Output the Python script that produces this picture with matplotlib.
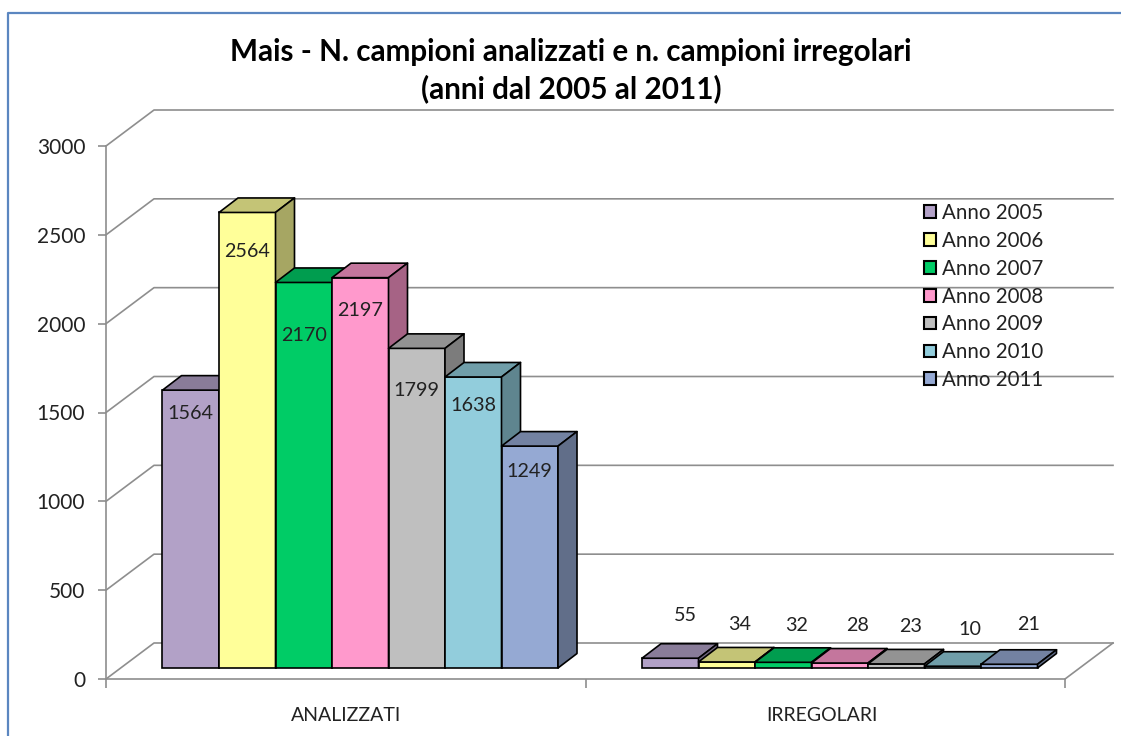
import matplotlib
matplotlib.use("Agg")
import matplotlib.pyplot as plt
from matplotlib.patches import Polygon, Patch
from matplotlib.lines import Line2D
from matplotlib.colors import to_rgb

plt.rcParams['font.family'] = ['Lato', 'DejaVu Sans']

categories = ["ANALIZZATI", "IRREGOLARI"]
years = ["Anno 2005", "Anno 2006", "Anno 2007", "Anno 2008", "Anno 2009", "Anno 2010", "Anno 2011"]
analizzati = [1564, 2564, 2170, 2197, 1799, 1638, 1249]
irregolari = [55, 34, 32, 28, 23, 10, 21]
colors = ["#B2A1C7", "#FFFF99", "#00CC66", "#FF99CC", "#BFBFBF", "#92CDDC", "#95A9D3"]
yticks = [0, 500, 1000, 1500, 2000, 2500, 3000]

# manual label offsets in px from the top-front centre of each bar (dx, dy up)
an_off = [(0, -23.5), (0, -39.5), (0, -53), (0, -33), (0, -42), (0, -29), (0, -25)]
ir_off = [(15, 43), (13, 37), (13, 37), (18, 38), (14, 37), (17, 37), (19, 40)]

W, H = 1121, 736
fig = plt.figure(figsize=(W / 100, H / 100), dpi=100, facecolor="white")
L, R, T, B = 106, 1065, 146, 679
ax = fig.add_axes([L / W, (H - B) / H, (R - L) / W, (B - T) / H])
ax.set_xlim(-0.5, 1.5)
ax.set_ylim(0, 3000)
ax.patch.set_visible(False)
px = 2 / (R - L)
py = 3000 / (B - T)
GRAY = "#8E8E8E"

for s in ("top", "right"):
    ax.spines[s].set_visible(False)
for s in ("left", "bottom"):
    ax.spines[s].set_color(GRAY)
    ax.spines[s].set_linewidth(1.2)

ax.set_yticks(yticks)
ax.set_xticks([-0.5, 0.5, 1.5])
ax.set_xticklabels([])
ax.set_xticks([0, 1 - 3 * px], minor=True)
ax.set_xticklabels(categories, minor=True, fontsize=14, color="#222222")
ax.tick_params(axis="x", which="major", length=6.5, width=1.2, color=GRAY)
ax.tick_params(axis="x", which="minor", length=0, pad=20)
ax.tick_params(axis="y", length=6, width=1.2, color=GRAY, pad=9, labelsize=15, labelcolor="#222222")

# walls
wx, wy = 48 * px, 36 * py
for v in yticks:
    ax.plot([-0.5, -0.5 + wx, 1.5 + wx], [v, v + wy, v + wy], color=GRAY, lw=1.2, clip_on=False, zorder=1)
ax.plot([1.5, 1.5 + wx], [0, wy], color=GRAY, lw=1.2, clip_on=False, zorder=1)

# bars
bw = 56.5 * px
dx, dy = 19 * px, 14.5 * py
base = 11 * py
shift = 14.5 * px


def shade(c, f):
    return tuple(x * f for x in to_rgb(c))


for g, vals in enumerate((analizzati, irregolari)):
    x0 = g + shift - 3.5 * bw
    for i, v in enumerate(vals):
        xl = x0 + i * bw
        xr = xl + bw
        top = base + v
        z = 3 + i
        kw = dict(edgecolor="black", lw=1.2, clip_on=False, zorder=z, joinstyle="round")
        ax.bar(xl, v, bw, bottom=base, align="edge", color=colors[i], edgecolor="black",
               linewidth=1.2, clip_on=False, zorder=z)
        ax.add_patch(Polygon([(xl, top), (xl + dx, top + dy), (xr + dx, top + dy), (xr, top)],
                             facecolor=shade(colors[i], 0.77), **kw))
        ax.add_patch(Polygon([(xr, base), (xr + dx, base + dy), (xr + dx, top + dy), (xr, top)],
                             facecolor=shade(colors[i], 0.65), **kw))
        off = an_off[i] if g == 0 else ir_off[i]
        ax.text(xl + bw / 2 + off[0] * px, top + off[1] * py, str(v), ha="center", va="center",
                fontsize=14.2, color="#222222", zorder=20)

handles = [Patch(facecolor=c, edgecolor="black", linewidth=1.5) for c in colors]
ax.legend(handles, years, loc="upper left", bbox_to_anchor=((920 - L) / (R - L), (B - 199) / (B - T)),
          frameon=False, fontsize=14.8, labelspacing=0.38, handlelength=0.58, handleheight=0.58,
          handletextpad=0.3, borderpad=0.2, borderaxespad=0, labelcolor="#222222").set_zorder(25)

fig.text(571 / W, 1 - 52 / H, "Mais - N. campioni analizzati e n. campioni irregolari",
         ha="center", va="center", fontsize=21.3, fontweight="bold", color="black")
fig.text(571 / W, 1 - 89 / H, "(anni dal 2005 al 2011)", ha="center", va="center",
         fontsize=21.3, fontweight="bold", color="black")

BLUE = "#5B86C0"
fig.add_artist(Line2D([8 / W, 8 / W, 1], [0, 1 - 13 / H, 1 - 13 / H], color=BLUE, lw=1.6))

fig.savefig("out.png", dpi=100)
